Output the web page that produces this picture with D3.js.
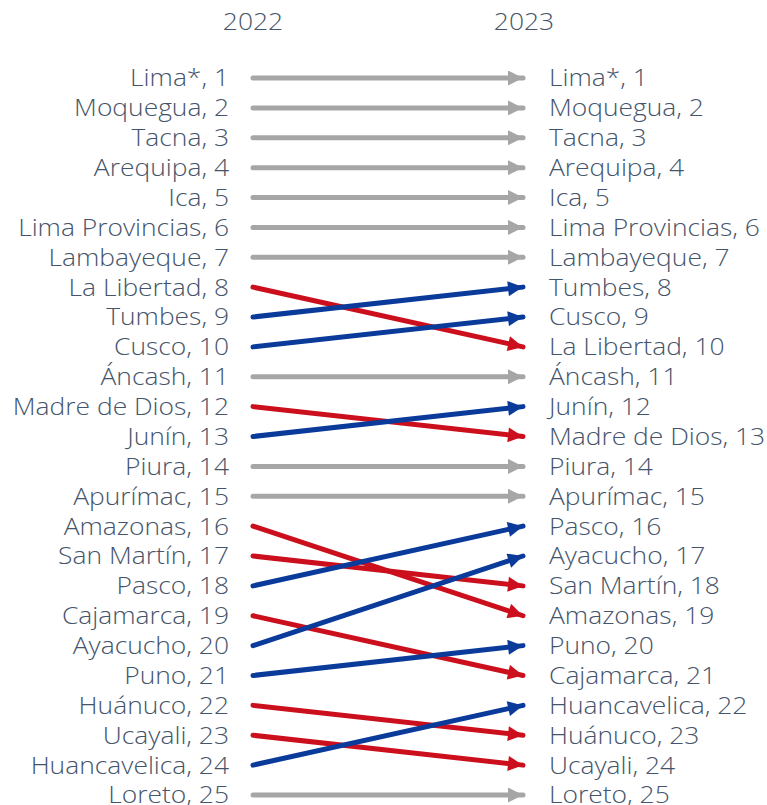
<!DOCTYPE html>
<html>
<head>
<meta charset="utf-8">
<script src="https://cdn.jsdelivr.net/npm/d3@7"></script>
<style>
  body { margin: 0; background: #fff; }
  text { font-family: "Open Sans", "Noto Sans", sans-serif; font-weight: 300; fill: #44546a; }
</style>
</head>
<body>
<script>
// regions in 2022 order, with 2022 and 2023 ranks
const regions = ["Lima*", "Moquegua", "Tacna", "Arequipa", "Ica", "Lima Provincias", "Lambayeque",
    "La Libertad", "Tumbes", "Cusco", "Áncash", "Madre de Dios", "Junín", "Piura", "Apurímac",
    "Amazonas", "San Martín", "Pasco", "Cajamarca", "Ayacucho", "Puno", "Huánuco", "Ucayali",
    "Huancavelica", "Loreto"]
const rank2022 = [1, 2, 3, 4, 5, 6, 7, 8, 9, 10, 11, 12, 13, 14, 15, 16, 17, 18, 19, 20, 21, 22, 23, 24, 25]
const rank2023 = [1, 2, 3, 4, 5, 6, 7, 10, 8, 9, 11, 13, 12, 14, 15, 19, 18, 16, 21, 17, 20, 23, 24, 22, 25]
const years = ["2022", "2023"]

const colors = { up: "#0a3a9a", down: "#cc0f1c", same: "#a6a6a6" }

let width = 767, height = 805
let stretch = 1.1 // the original font is wider than what we have
let svg = d3.select("body").append("svg").attr("width", width).attr("height", height)

let x = d3.scalePoint().domain(years).range([253, 524])
let y = d3.scaleLinear().domain([1, 25]).range([78, 795])

let data = regions.map(function (r, i) {
    let a = rank2022[i], b = rank2023[i]
    return { name: r, a: a, b: b, kind: b < a ? "up" : (b > a ? "down" : "same") }
})

// arrow heads
let defs = svg.append("defs")
for (let k in colors) {
    defs.append("marker").attr("id", "arrow-" + k)
        .attr("viewBox", "0 0 10 10").attr("refX", 10).attr("refY", 5)
        .attr("markerUnits", "userSpaceOnUse")
        .attr("markerWidth", 17).attr("markerHeight", 15)
        .attr("orient", "auto")
        .append("path").attr("d", "M0,0 L10,5 L0,10 Z").attr("fill", colors[k])
}

// year headers
svg.selectAll(".year").data(years).enter().append("g")
    .attr("transform", function (d) { return "translate(" + x(d) + ",22) scale(" + stretch + ",1)" })
    .append("text").attr("dy", "0.35em")
    .attr("text-anchor", "middle").style("font-size", "24px")
    .text(function (d) { return d })

// draw gray first, then colored on top
let order = data.slice().sort(function (p, q) {
    let w = { same: 0, down: 1, up: 2 }
    return w[p.kind] - w[q.kind]
})
svg.selectAll(".link").data(order).enter().append("line")
    .attr("x1", x("2022")).attr("y1", function (d) { return y(d.a) })
    .attr("x2", x("2023") - 1).attr("y2", function (d) { return y(d.b) })
    .attr("stroke", function (d) { return colors[d.kind] })
    .attr("stroke-width", 5)
    .attr("stroke-linecap", "round")
    .attr("marker-end", function (d) { return "url(#arrow-" + d.kind + ")" })

// left labels
svg.selectAll(".left").data(data).enter().append("g")
    .attr("transform", function (d) { return "translate(229," + y(d.a) + ") scale(" + stretch + ",1)" })
    .append("text").attr("dy", "0.35em")
    .attr("text-anchor", "end").style("font-size", "24px")
    .text(function (d) { return d.name + ", " + d.a })

// right labels
svg.selectAll(".right").data(data).enter().append("g")
    .attr("transform", function (d) { return "translate(549," + y(d.b) + ") scale(" + stretch + ",1)" })
    .append("text").attr("dy", "0.35em")
    .attr("text-anchor", "start").style("font-size", "24px")
    .text(function (d) { return d.name + ", " + d.b })
</script>
</body>
</html>
